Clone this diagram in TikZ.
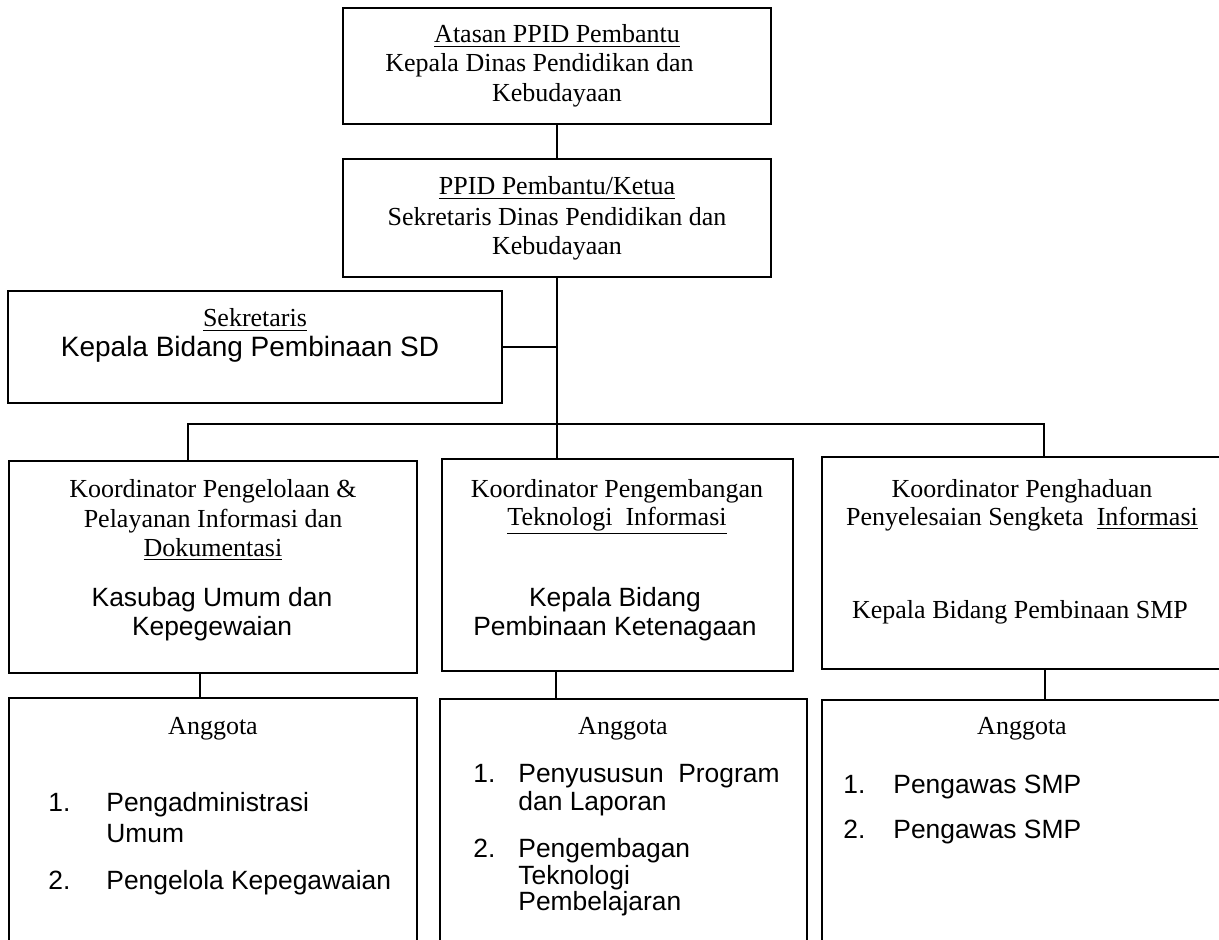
\documentclass[tikz,border=0pt]{standalone}
\usepackage{fontspec}
\setmainfont{Liberation Serif}
\setsansfont{Liberation Sans}
\tikzset{
	kasten/.style={draw, line width=0.8pt, inner sep=0pt, outer sep=0pt},
	linie/.style={line width=0.8pt},
	zeile/.style={anchor=base, inner sep=0pt, font=\fontsize{13}{15}\selectfont},
	zeilesf/.style={anchor=base, inner sep=0pt, font=\sffamily\fontsize{13.2}{15}\selectfont},
	punkt/.style={anchor=base west, inner sep=0pt, font=\sffamily\fontsize{13.2}{15}\selectfont},
}
\begin{document}
\begin{tikzpicture}[x=0.5pt, y=-0.5pt]
	\useasboundingbox (0,0) rectangle (1219,940);
	\clip (0,0) rectangle (1219,940);
	% Kaesten
	\node[kasten, minimum width=214pt, minimum height=58pt] (atasan) at (557,66) {};
	\node[kasten, minimum width=214pt, minimum height=59pt] (ketua) at (557,218) {};
	\node[kasten, minimum width=247pt, minimum height=56pt] (sekretaris) at (255,347) {};
	\node[kasten, minimum width=204pt, minimum height=106pt] (koorInfo) at (213,567) {};
	\node[kasten, minimum width=175.5pt, minimum height=106pt] (koorTI) at (617.5,565) {};
	\node[kasten, minimum width=204pt, minimum height=106pt] (koorSengketa) at (1026,563) {};
	\node[kasten, minimum width=204pt, minimum height=141pt] (anggInfo) at (213,839) {};
	\node[kasten, minimum width=183.5pt, minimum height=140.5pt] (anggTI) at (623.5,839.5) {};
	\node[kasten, minimum width=204pt, minimum height=140pt] (anggSengketa) at (1026,840) {};
	% Hilfspunkte fuer die Linien
	\coordinate (stamm) at (557,0);
	\coordinate (busL) at (188,424);
	\coordinate (busR) at (1044,424);
	\coordinate (stielInfo) at (200,0);
	\coordinate (stielTI) at (556,0);
	\coordinate (stielSengketa) at (1045,0);
	% Verbindungen
	\draw[linie] (atasan.south -| stamm) -- (ketua.north -| stamm);
	\draw[linie] (ketua.south -| stamm) -- (koorTI.north -| stamm);
	\draw[linie] (sekretaris.east) -- (sekretaris.east -| stamm);
	\draw[linie] (koorInfo.north -| busL) -- (busL) -- (busR) -- (koorSengketa.north -| busR);
	\draw[linie] (koorInfo.south -| stielInfo) -- (anggInfo.north -| stielInfo);
	\draw[linie] (koorTI.south -| stielTI) -- (anggTI.north -| stielTI);
	\draw[linie] (koorSengketa.south -| stielSengketa) -- (anggSengketa.north -| stielSengketa);
	% Texte oben
	\node[zeile] (atasanA) at (557,43) {\underline{Atasan PPID Pembantu}};
	\node[zeile, anchor=base west] (atasanB) at (385,72) {Kepala Dinas Pendidikan dan};
	\node[zeile] (atasanC) at (557,102) {Kebudayaan};
	\node[zeile] (ketuaA) at (557,195) {\underline{PPID Pembantu/Ketua}};
	\node[zeile] (ketuaB) at (557,226) {Sekretaris Dinas Pendidikan dan};
	\node[zeile] (ketuaC) at (557,255) {Kebudayaan};
	\node[zeile] (sekretarisA) at (255,327) {\underline{Sekretaris}};
	\node[zeilesf, font=\sffamily\fontsize{14}{16}\selectfont] (sekretarisB) at (250,357) {Kepala Bidang Pembinaan SD};
	% Koordinatoren
	\node[zeile] (koorInfoA) at (213,497) {Koordinator Pengelolaan \&};
	\node[zeile] (koorInfoB) at (213,527) {Pelayanan Informasi dan};
	\node[zeile] (koorInfoC) at (213,556) {\underline{Dokumentasi}};
	\node[zeilesf] (koorInfoD) at (212,606) {Kasubag Umum dan};
	\node[zeilesf] (koorInfoE) at (212,635) {Kepegewaian};
	\node[zeile] (koorTIA) at (617,497) {Koordinator Pengembangan};
	\node[zeile] (koorTIB) at (617,525) {\underline{Teknologi\ \ Informasi}};
	\node[zeilesf] (koorTIC) at (615,606) {Kepala Bidang};
	\node[zeilesf] (koorTID) at (615,635) {Pembinaan Ketenagaan};
	\node[zeile] (koorSengketaA) at (1022,497) {Koordinator Penghaduan};
	\node[zeile] (koorSengketaB) at (1022,525) {Penyelesaian Sengketa\ \ \underline{Informasi}};
	\node[zeile] (koorSengketaC) at (1020,618) {Kepala Bidang Pembinaan SMP};
	% Anggota
	\node[zeile] (anggInfoA) at (213,734) {Anggota};
	\node[punkt] (anggInfoN1) at (48,811) {1.};
	\node[punkt] (anggInfoB) at (106,811) {Pengadministrasi};
	\node[punkt] (anggInfoC) at (106,842) {Umum};
	\node[punkt] (anggInfoN2) at (48,889) {2.};
	\node[punkt] (anggInfoD) at (106,889) {Pengelola Kepegawaian};
	\node[zeile] (anggTIA) at (623,734) {Anggota};
	\node[punkt] (anggTIN1) at (473,782) {1.};
	\node[punkt] (anggTIB) at (518,782) {Penyususun\ \ Program};
	\node[punkt] (anggTIC) at (518,810) {dan Laporan};
	\node[punkt] (anggTIN2) at (473,857) {2.};
	\node[punkt] (anggTID) at (518,857) {Pengembagan};
	\node[punkt] (anggTIE) at (518,884) {Teknologi};
	\node[punkt] (anggTIF) at (518,910) {Pembelajaran};
	\node[zeile] (anggSengketaA) at (1022,734) {Anggota};
	\node[punkt] (anggSengketaN1) at (843,793) {1.};
	\node[punkt] (anggSengketaB) at (893,793) {Pengawas SMP};
	\node[punkt] (anggSengketaN2) at (843,838) {2.};
	\node[punkt] (anggSengketaC) at (893,838) {Pengawas SMP};
\end{tikzpicture}
\end{document}
